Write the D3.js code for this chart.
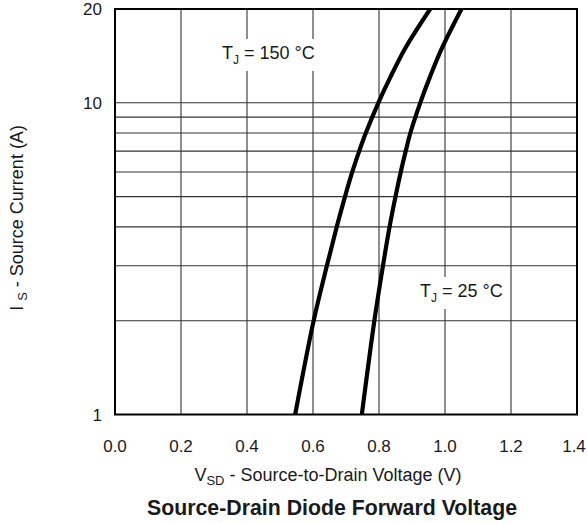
<!DOCTYPE html>
<html>
<head>
<meta charset="utf-8">
<script src="https://cdn.jsdelivr.net/npm/d3@7/dist/d3.min.js"></script>
<style>
  html, body { margin: 0; padding: 0; background: #fff; }
  text { font-family: "Liberation Sans", Arial, Helvetica, sans-serif; fill: #1a1a1a; }
</style>
</head>
<body>
<svg id="chart" width="587" height="523"></svg>
<script>
// ---- data ----
const currents = [1, 2, 3, 4, 5, 6, 7, 8, 10, 12, 15, 20];
const v150 = [0.546, 0.602, 0.642, 0.672, 0.697, 0.719, 0.740, 0.760, 0.798, 0.833, 0.880, 0.955];
const v25  = [0.748, 0.786, 0.812, 0.832, 0.850, 0.866, 0.881, 0.895, 0.925, 0.953, 0.991, 1.050];
const xTicks = [0.0, 0.2, 0.4, 0.6, 0.8, 1.0, 1.2, 1.4];
const yGrid = [2, 3, 4, 5, 6, 7, 8, 9, 10];
const yLabels = [1, 10, 20];

// ---- layout ----
const svg = d3.select("#chart");
const L = 115, R = 577, T = 9, B = 414.5;
const x = d3.scaleLinear().domain([0, 1.4]).range([L, R]);
const y = d3.scaleLog().domain([1, 20]).range([B, T]);

// grid
const g = svg.append("g");
g.selectAll(".vg").data(xTicks.slice(1, -1)).enter().append("line")
  .attr("x1", d => x(d)).attr("x2", d => x(d)).attr("y1", T).attr("y2", B)
  .attr("stroke", "#333").attr("stroke-width", 1.1);
g.selectAll(".hg").data(yGrid).enter().append("line")
  .attr("x1", L).attr("x2", R).attr("y1", d => y(d)).attr("y2", d => y(d))
  .attr("stroke", "#333").attr("stroke-width", 1.1);

// label backgrounds + labels
function tjLabel(xPos, yPos, temp) {
  const t = svg.append("text").attr("x", xPos).attr("y", yPos).attr("font-size", 18);
  t.append("tspan").text("T");
  t.append("tspan").attr("font-size", 12).attr("dy", 5).text("J");
  t.append("tspan").attr("dy", -5).text(" = " + temp + " °C");
  const bb = t.node().getBBox();
  svg.insert("rect", "text").attr("x", bb.x - 5).attr("y", bb.y - 4)
    .attr("width", bb.width + 10).attr("height", bb.height + 8).attr("fill", "#fff");
}

// curves
const line = d3.line().x(d => x(d[0])).y(d => y(d[1])).curve(d3.curveCatmullRom.alpha(0.5));
svg.append("clipPath").attr("id", "clip").append("rect")
  .attr("x", L).attr("y", T).attr("width", R - L).attr("height", B - T);
[v150, v25].forEach(vs => {
  svg.append("path").datum(vs.map((v, i) => [v, currents[i]]))
    .attr("d", line).attr("fill", "none").attr("stroke", "#000")
    .attr("stroke-width", 4.2).attr("clip-path", "url(#clip)");
});

tjLabel(222, 59, 150);
tjLabel(420, 297, 25);

// frame
svg.append("rect").attr("x", L).attr("y", T).attr("width", R - L).attr("height", B - T)
  .attr("fill", "none").attr("stroke", "#000").attr("stroke-width", 2);

// tick labels
svg.selectAll(".xl").data(xTicks).enter().append("text")
  .attr("x", d => d === 1.4 ? x(d) - 3 : x(d)).attr("y", 452).attr("text-anchor", "middle")
  .attr("font-size", 17).text(d => d.toFixed(1));
svg.selectAll(".yl").data(yLabels).enter().append("text")
  .attr("x", 102).attr("y", d => y(d)).attr("dy", "0.36em").attr("text-anchor", "end")
  .attr("font-size", 17).text(d => d);

// axis titles
const xt = svg.append("text").attr("x", 328).attr("y", 481).attr("text-anchor", "middle").attr("font-size", 18);
xt.append("tspan").text("V");
xt.append("tspan").attr("font-size", 13).attr("dy", 4).text("SD");
xt.append("tspan").attr("dy", -4).text(" - Source-to-Drain Voltage (V)");

const yt = svg.append("text").attr("transform", "translate(23,218) rotate(-90)")
  .attr("text-anchor", "middle").attr("font-size", 18);
yt.append("tspan").text("I ");
yt.append("tspan").attr("font-size", 13).attr("dy", 4).text("S");
yt.append("tspan").attr("dy", -4).text(" - Source Current (A)");

// chart title
svg.append("text").attr("x", 332).attr("y", 515).attr("text-anchor", "middle")
  .attr("font-size", 21.3).attr("font-weight", "bold").text("Source-Drain Diode Forward Voltage");
</script>
</body>
</html>
